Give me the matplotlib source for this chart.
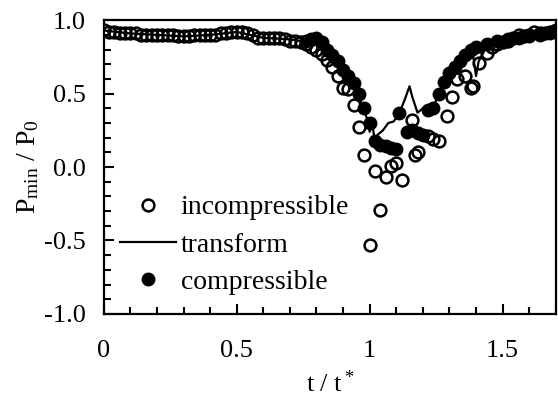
import matplotlib
matplotlib.use("Agg")
import matplotlib.pyplot as plt
from matplotlib.ticker import MultipleLocator

plt.rcParams['font.family'] = 'Liberation Serif'
plt.rcParams['mathtext.fontset'] = 'custom'
plt.rcParams['mathtext.rm'] = 'Liberation Serif'
plt.rcParams['mathtext.it'] = 'Liberation Serif:italic'

# incompressible (open circles)
inc_t = [0.00, 0.02, 0.04, 0.06, 0.08, 0.10, 0.12, 0.14, 0.16, 0.18, 0.20, 0.22, 0.24,
         0.26, 0.28, 0.30, 0.32, 0.34, 0.36, 0.38, 0.40, 0.42, 0.44, 0.46, 0.48, 0.50,
         0.52, 0.54, 0.56, 0.58, 0.60, 0.62, 0.64, 0.66, 0.68, 0.70, 0.72, 0.74, 0.76,
         0.78, 0.80, 0.82, 0.84, 0.86, 0.88, 0.90, 0.92, 0.94, 0.96, 0.98, 1.00, 1.02,
         1.04, 1.06, 1.08, 1.10, 1.12, 1.16, 1.17, 1.18, 1.22, 1.24, 1.26, 1.29, 1.31,
         1.33, 1.36, 1.38, 1.39, 1.41, 1.44, 1.46, 1.48, 1.50, 1.52, 1.54, 1.56, 1.58,
         1.60, 1.62, 1.64, 1.66, 1.68, 1.70]
inc_p = [0.93, 0.92, 0.92, 0.91, 0.91, 0.91, 0.91, 0.90, 0.90, 0.90, 0.90, 0.90, 0.90,
         0.90, 0.89, 0.89, 0.89, 0.90, 0.90, 0.90, 0.90, 0.90, 0.91, 0.91, 0.92, 0.92,
         0.92, 0.91, 0.90, 0.88, 0.88, 0.88, 0.88, 0.88, 0.87, 0.86, 0.86, 0.85, 0.84,
         0.82, 0.80, 0.77, 0.73, 0.68, 0.62, 0.54, 0.53, 0.42, 0.27, 0.08, -0.53, -0.03,
         -0.29, -0.07, 0.01, 0.03, -0.09, 0.32, 0.08, 0.10, 0.21, 0.19, 0.18, 0.35, 0.48,
         0.60, 0.62, 0.54, 0.55, 0.71, 0.78, 0.82, 0.84, 0.85, 0.86, 0.88, 0.90, 0.89,
         0.90, 0.92, 0.91, 0.91, 0.92, 0.93]

# transform (line)
tr_t = [0.00, 0.10, 0.20, 0.30, 0.40, 0.50, 0.60, 0.70, 0.80, 0.86, 0.92, 0.96, 0.99,
        1.00, 1.01, 1.02, 1.03, 1.05, 1.07, 1.09, 1.11, 1.13, 1.15, 1.16, 1.18, 1.20,
        1.24, 1.28, 1.32, 1.36, 1.39, 1.40, 1.41, 1.44, 1.50, 1.60, 1.70]
tr_p = [0.93, 0.91, 0.90, 0.89, 0.90, 0.92, 0.88, 0.87, 0.84, 0.76, 0.62, 0.48, 0.33,
        0.24, 0.30, 0.16, 0.22, 0.25, 0.30, 0.31, 0.36, 0.45, 0.55, 0.48, 0.37, 0.40,
        0.42, 0.55, 0.65, 0.72, 0.75, 0.62, 0.72, 0.82, 0.86, 0.89, 0.92]

# compressible (filled circles)
co_t = [0.76, 0.78, 0.80, 0.82, 0.84, 0.86, 0.88, 0.90, 0.92, 0.94, 0.96, 0.98, 1.00,
        1.02, 1.04, 1.06, 1.08, 1.10, 1.11, 1.14, 1.16, 1.18, 1.20, 1.22, 1.24, 1.26,
        1.28, 1.30, 1.32, 1.34, 1.36, 1.38, 1.40, 1.44, 1.48, 1.52, 1.56, 1.60, 1.64,
        1.68, 1.70]
co_p = [0.86, 0.87, 0.88, 0.85, 0.80, 0.76, 0.72, 0.66, 0.62, 0.57, 0.50, 0.40, 0.30,
        0.18, 0.15, 0.14, 0.13, 0.12, 0.37, 0.24, 0.25, 0.23, 0.22, 0.39, 0.40, 0.50,
        0.58, 0.64, 0.68, 0.72, 0.76, 0.80, 0.82, 0.84, 0.86, 0.87, 0.88, 0.89, 0.90,
        0.91, 0.92]

fig = plt.figure(figsize=(5.58, 4.04), dpi=100)
ax = fig.add_axes([0.186, 0.223, 0.81, 0.727])

ax.plot(co_t, co_p, 'o', color='black', markersize=9, label='compressible', zorder=2)
ax.plot(inc_t, inc_p, 'o', markerfacecolor='none', markeredgecolor='black',
        markeredgewidth=1.8, markersize=8.5, label='incompressible', zorder=3)
ax.plot(tr_t, tr_p, '-', color='black', linewidth=1.6, label='transform', zorder=4)

ax.set_xlim(0, 1.7)
ax.set_ylim(-1.0, 1.0)
ax.xaxis.set_minor_locator(MultipleLocator(0.1))
ax.yaxis.set_minor_locator(MultipleLocator(0.1))
ax.set_xticks([0, 0.5, 1, 1.5])
ax.set_xticklabels(['0', '0.5', '1', '1.5'])
ax.set_yticks([-1.0, -0.5, 0.0, 0.5, 1.0])
ax.set_yticklabels(['-1.0', '-0.5', '0.0', '0.5', '1.0'])

ax.tick_params(which='both', direction='in', top=False, right=False, labelsize=19, width=1.5)
ax.tick_params(axis='x', which='major', length=7, pad=19)
ax.tick_params(axis='y', which='major', length=7, pad=13)
ax.tick_params(which='minor', length=5)
for s in ax.spines.values():
    s.set_linewidth(1.6)

ax.set_xlabel(r't / t$^*$', fontsize=19, labelpad=6)
ax.set_ylabel(r'P$_{\rm min}$ / P$_0$', fontsize=20, labelpad=2)

h, l = ax.get_legend_handles_labels()
order = [1, 2, 0]
ax.legend([h[i] for i in order], [l[i] for i in order], loc='upper left',
          bbox_to_anchor=(0.036, 0.405), frameon=False, fontsize=20,
          handlelength=2.0, handletextpad=0.18, labelspacing=0.42, borderpad=0,
          borderaxespad=0)

fig.savefig('out.png', dpi=100)
